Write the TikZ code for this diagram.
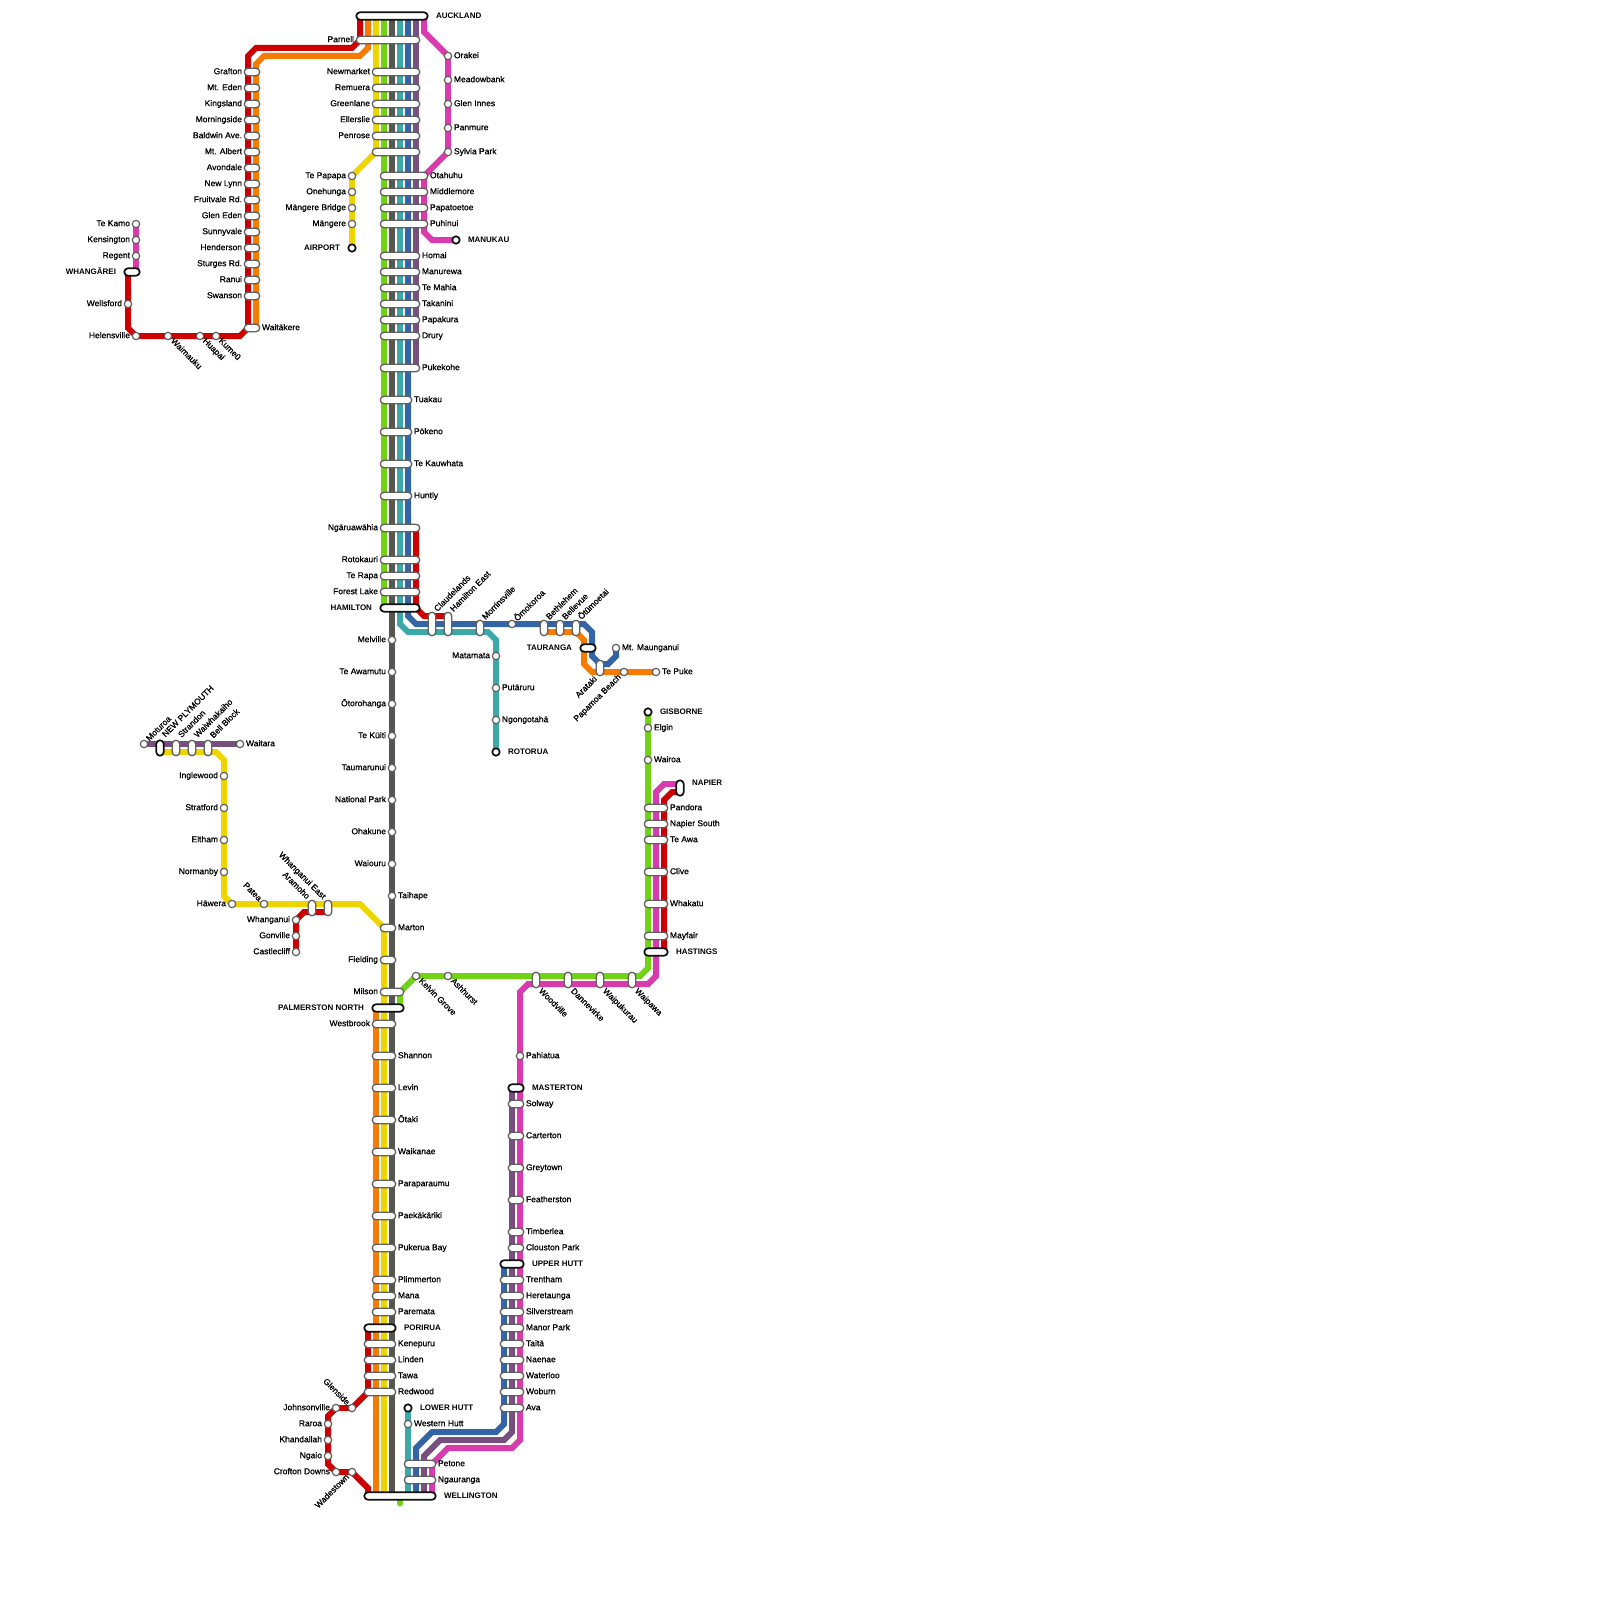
\documentclass[tikz,border=0pt]{standalone}
\usepackage{fontspec}
\setmainfont{Liberation Sans}
\newfontfamily\lbfont[FakeBold=0.8]{Liberation Sans}
\newfontfamily\tmfont{Liberation Sans Bold}
\usetikzlibrary{backgrounds}
\definecolor{cRed}{HTML}{CC0000}
\definecolor{cOrange}{HTML}{F57C00}
\definecolor{cYellow}{HTML}{EED500}
\definecolor{cGreen}{HTML}{72D314}
\definecolor{cGray}{HTML}{55564F}
\definecolor{cTeal}{HTML}{3CA8A8}
\definecolor{cBlue}{HTML}{3365A6}
\definecolor{cPurple}{HTML}{764F7F}
\definecolor{cMagenta}{HTML}{D93AAE}
\definecolor{stnline}{HTML}{606060}
\definecolor{termline}{HTML}{111111}
\tikzset{
  trk/.style={line width=3pt,line join=miter},
  stn/.style={circle,draw=stnline,fill=white,line width=.6pt,minimum size=3.7pt,inner sep=0pt,outer sep=0pt},
  stt/.style={circle,draw=termline,fill=white,line width=.85pt,minimum size=3.7pt,inner sep=0pt,outer sep=0pt},
  capn/.style={rectangle,draw=stnline,fill=white,line width=.65pt,rounded corners=1.87pt,inner sep=0pt,outer sep=0pt},
  capt/.style={rectangle,draw=termline,fill=white,line width=.85pt,rounded corners=1.87pt,inner sep=0pt,outer sep=0pt},
  lbbase/.style={inner sep=0pt,outer sep=0pt,text height=2.2pt,text depth=0pt,font=\lbfont\fontsize{4.25pt}{5pt}\selectfont,text=black},
  tmbase/.style={inner sep=0pt,outer sep=0pt,text height=2.2pt,text depth=0pt,font=\tmfont\fontsize{4pt}{5pt}\selectfont,text=black},
  lbL/.style={lbbase,xshift=-3pt,anchor=east},
  lbR/.style={lbbase,xshift=3pt,anchor=west},
  lbTL/.style={tmbase,xshift=-6pt,anchor=east},
  lbTR/.style={tmbase,xshift=6pt,anchor=west},
  lbUR/.style={lbbase,xshift=2pt,yshift=2pt,rotate=45,anchor=west},
  lbDR/.style={lbbase,xshift=2pt,yshift=-2pt,rotate=-45,anchor=west},
  lbDL/.style={lbbase,xshift=-2pt,yshift=-2pt,rotate=45,anchor=east},
  lbUL/.style={lbbase,xshift=-2pt,yshift=2pt,rotate=-45,anchor=east},
}
% id, x, y, dir, text
\newcommand\MkLab[5]{\node[lb#4] (#1-t) at (#2,#3) {#5};}
% id, style, x1, x2, y
\newcommand\MkCap[5]{\node[#2,minimum width={(#4-#3)*0.5pt+3.75pt},minimum height=3.75pt] (#1) at ({(#3+#4)/2},#5) {};}
\newcommand\CapL[5]{\MkCap{#1}{capn}{#2}{#3}{#4}\MkLab{#1}{#2}{#4}{L}{#5}}
\newcommand\CapR[5]{\MkCap{#1}{capn}{#2}{#3}{#4}\MkLab{#1}{#3}{#4}{R}{#5}}
\newcommand\TermL[5]{\MkCap{#1}{capt}{#2}{#3}{#4}\MkLab{#1}{#2}{#4}{TL}{#5}}
\newcommand\TermR[5]{\MkCap{#1}{capt}{#2}{#3}{#4}\MkLab{#1}{#3}{#4}{TR}{#5}}
\newcommand\Stop[5]{\node[stn] (#1) at (#2,#3) {};\MkLab{#1}{#2}{#3}{#4}{#5}}
\newcommand\TermStop[5]{\node[stt] (#1) at (#2,#3) {};\MkLab{#1}{#2}{#3}{#4}{#5}}
% id, style, x, y1, y2
\newcommand\MkCapV[5]{\node[#2,minimum width=3.75pt,minimum height={(#5-#4)*0.5pt+3.75pt}] (#1) at (#3,{(#4+#5)/2}) {};}
% id, x, y1, y2, label y, dir, text
\newcommand\CapV[7]{\MkCapV{#1}{capn}{#2}{#3}{#4}\MkLab{#1}{#2}{#5}{#6}{#7}}
\begin{document}
\begin{tikzpicture}[x=.5pt,y=-.5pt]
\useasboundingbox (0,0) rectangle (1600,1600);
% ---- Auckland trunk
\TermR{auckland}{360}{424}{16}{AUCKLAND}
\CapL{parnell}{360}{416}{40}{Parnell}
\CapL{newmarket}{376}{416}{72}{Newmarket}
\CapL{remuera}{376}{416}{88}{Remuera}
\CapL{greenlane}{376}{416}{104}{Greenlane}
\CapL{ellerslie}{376}{416}{120}{Ellerslie}
\CapL{penrose}{376}{416}{136}{Penrose}
\MkCap{unnamedjn}{capn}{376}{416}{152}
\CapR{otahuhu}{384}{424}{176}{Otahuhu}
\CapR{middlemore}{384}{424}{192}{Middlemore}
\CapR{papatoetoe}{384}{424}{208}{Papatoetoe}
\CapR{puhinui}{384}{424}{224}{Puhinui}
\CapR{homai}{384}{416}{256}{Homai}
\CapR{manurewa}{384}{416}{272}{Manurewa}
\CapR{temahia}{384}{416}{288}{Te Mahia}
\CapR{takanini}{384}{416}{304}{Takanini}
\CapR{papakura}{384}{416}{320}{Papakura}
\CapR{drury}{384}{416}{336}{Drury}
\CapR{pukekohe}{384}{416}{368}{Pukekohe}
\CapR{tuakau}{384}{408}{400}{Tuakau}
\CapR{pokeno}{384}{408}{432}{Pōkeno}
\CapR{tekauwhata}{384}{408}{464}{Te Kauwhata}
\CapR{huntly}{384}{408}{496}{Huntly}
\CapL{ngaruawahia}{384}{416}{528}{Ngāruawāhia}
\CapL{rotokauri}{384}{416}{560}{Rotokauri}
\CapL{terapa}{384}{416}{576}{Te Rapa}
\CapL{forestlake}{384}{416}{592}{Forest Lake}
\TermL{hamilton}{384}{416}{608}{HAMILTON}
% ---- Onehunga
\Stop{tepapapa}{352}{176}{L}{Te Papapa}
\Stop{onehunga}{352}{192}{L}{Onehunga}
\Stop{mangerebridge}{352}{208}{L}{Māngere Bridge}
\Stop{mangere}{352}{224}{L}{Māngere}
\TermStop{airport}{352}{248}{TL}{AIRPORT}
% ---- Orakei / Manukau
\Stop{orakei}{448}{56}{R}{Orakei}
\Stop{meadowbank}{448}{80}{R}{Meadowbank}
\Stop{gleninnes}{448}{104}{R}{Glen Innes}
\Stop{panmure}{448}{128}{R}{Panmure}
\Stop{sylviapark}{448}{152}{R}{Sylvia Park}
\TermStop{manukau}{456}{240}{TR}{MANUKAU}
% ---- Western
\CapL{grafton}{248}{256}{72}{Grafton}
\CapL{mteden}{248}{256}{88}{Mt. Eden}
\CapL{kingsland}{248}{256}{104}{Kingsland}
\CapL{morningside}{248}{256}{120}{Morningside}
\CapL{baldwin}{248}{256}{136}{Baldwin Ave.}
\CapL{mtalbert}{248}{256}{152}{Mt. Albert}
\CapL{avondale}{248}{256}{168}{Avondale}
\CapL{newlynn}{248}{256}{184}{New Lynn}
\CapL{fruitvale}{248}{256}{200}{Fruitvale Rd.}
\CapL{gleneden}{248}{256}{216}{Glen Eden}
\CapL{sunnyvale}{248}{256}{232}{Sunnyvale}
\CapL{henderson}{248}{256}{248}{Henderson}
\CapL{sturges}{248}{256}{264}{Sturges Rd.}
\CapL{ranui}{248}{256}{280}{Ranui}
\CapL{swanson}{248}{256}{296}{Swanson}
\CapR{waitakere}{248}{256}{328}{Waitākere}
% ---- Northland
\Stop{tekamo}{136}{224}{L}{Te Kamo}
\Stop{kensington}{136}{240}{L}{Kensington}
\Stop{regent}{136}{256}{L}{Regent}
\TermL{whangarei}{128}{136}{272}{WHANGĀREI}
\Stop{wellsford}{128}{304}{L}{Wellsford}
\Stop{helensville}{136}{336}{L}{Helensville}
\Stop{waimauku}{168}{336}{DR}{Waimauku}
\Stop{huapai}{200}{336}{DR}{Huapai}
\Stop{kumeu}{216}{336}{DR}{Kumeū}
% ---- Main trunk south of Hamilton
\Stop{melville}{392}{640}{L}{Melville}
\Stop{teawamutu}{392}{672}{L}{Te Awamutu}
\Stop{otorohanga}{392}{704}{L}{Ōtorohanga}
\Stop{tekuiti}{392}{736}{L}{Te Kūiti}
\Stop{taumarunui}{392}{768}{L}{Taumarunui}
\Stop{nationalpark}{392}{800}{L}{National Park}
\Stop{ohakune}{392}{832}{L}{Ohakune}
\Stop{waiouru}{392}{864}{L}{Waiouru}
\Stop{taihape}{392}{896}{R}{Taihape}
\CapR{marton}{384}{392}{928}{Marton}
\CapL{fielding}{384}{392}{960}{Fielding}
\CapL{milson}{384}{400}{992}{Milson}
\TermL{palmerston}{376}{400}{1008}{PALMERSTON NORTH}
\CapL{westbrook}{376}{392}{1024}{Westbrook}
\CapR{shannon}{376}{392}{1056}{Shannon}
\CapR{levin}{376}{392}{1088}{Levin}
\CapR{otaki}{376}{392}{1120}{Ōtaki}
\CapR{waikanae}{376}{392}{1152}{Waikanae}
\CapR{paraparaumu}{376}{392}{1184}{Paraparaumu}
\CapR{paekakariki}{376}{392}{1216}{Paekākāriki}
\CapR{pukerua}{376}{392}{1248}{Pukerua Bay}
\CapR{plimmerton}{376}{392}{1280}{Plimmerton}
\CapR{mana}{376}{392}{1296}{Mana}
\CapR{paremata}{376}{392}{1312}{Paremata}
\TermR{porirua}{368}{392}{1328}{PORIRUA}
\CapR{kenepuru}{368}{392}{1344}{Kenepuru}
\CapR{linden}{368}{392}{1360}{Linden}
\CapR{tawa}{368}{392}{1376}{Tawa}
\CapR{redwood}{368}{392}{1392}{Redwood}
\TermR{wellington}{368}{432}{1496}{WELLINGTON}
% ---- Johnsonville
\Stop{glenside}{352}{1408}{UL}{Glenside}
\Stop{johnsonville}{336}{1408}{L}{Johnsonville}
\Stop{raroa}{328}{1424}{L}{Raroa}
\Stop{khandallah}{328}{1440}{L}{Khandallah}
\Stop{ngaio}{328}{1456}{L}{Ngaio}
\Stop{crofton}{336}{1472}{L}{Crofton Downs}
\Stop{wadestown}{352}{1472}{DL}{Wadestown}
% ---- Hutt
\TermStop{lowerhutt}{408}{1408}{TR}{LOWER HUTT}
\Stop{westernhutt}{408}{1424}{R}{Western Hutt}
\CapR{petone}{408}{432}{1464}{Petone}
\CapR{ngauranga}{408}{432}{1480}{Ngauranga}
\TermR{upperhutt}{504}{520}{1264}{UPPER HUTT}
\CapR{trentham}{504}{520}{1280}{Trentham}
\CapR{heretaunga}{504}{520}{1296}{Heretaunga}
\CapR{silverstream}{504}{520}{1312}{Silverstream}
\CapR{manorpark}{504}{520}{1328}{Manor Park}
\CapR{taita}{504}{520}{1344}{Taitā}
\CapR{naenae}{504}{520}{1360}{Naenae}
\CapR{waterloo}{504}{520}{1376}{Waterloo}
\CapR{woburn}{504}{520}{1392}{Woburn}
\CapR{ava}{504}{520}{1408}{Ava}
% ---- Wairarapa
\Stop{pahiatua}{520}{1056}{R}{Pahiatua}
\TermR{masterton}{512}{520}{1088}{MASTERTON}
\CapR{solway}{512}{520}{1104}{Solway}
\CapR{carterton}{512}{520}{1136}{Carterton}
\CapR{greytown}{512}{520}{1168}{Greytown}
\CapR{featherston}{512}{520}{1200}{Featherston}
\CapR{timberlea}{512}{520}{1232}{Timberlea}
\CapR{clouston}{512}{520}{1248}{Clouston Park}
% ---- Waikato east / Bay of Plenty
\CapV{claudelands}{432}{616}{632}{614.5}{UR}{Claudelands}
\CapV{hamiltoneast}{448}{616}{632}{614.5}{UR}{Hamilton East}
\CapV{morrinsville}{480}{624}{632}{622.5}{UR}{Morrinsville}
\Stop{omokoroa}{512}{624}{UR}{Ōmokoroa}
\CapV{bethlehem}{544}{624}{632}{622.5}{UR}{Bethlehem}
\CapV{bellevue}{560}{624}{632}{622.5}{UR}{Bellevue}
\CapV{otumoetai}{576}{624}{632}{622.5}{UR}{Ōtūmoetai}
\TermL{tauranga}{584}{592}{648}{TAURANGA}
\Stop{mtmaunganui}{616}{648}{R}{Mt. Maunganui}
\CapV{arataki}{600}{664}{672}{674}{DL}{Arataki}
\Stop{papamoa}{624}{672}{DL}{Papamoa Beach}
\Stop{tepuke}{656}{672}{R}{Te Puke}
\Stop{matamata}{496}{656}{L}{Matamata}
\Stop{putaruru}{496}{688}{R}{Putāruru}
\Stop{ngongotaha}{496}{720}{R}{Ngongotahā}
\TermStop{rotorua}{496}{752}{TR}{ROTORUA}
% ---- Taranaki
\Stop{moturoa}{144}{744}{UR}{Moturoa}
\MkCapV{newplymouth}{capt}{160}{744}{752}
\MkLab{newplymouth}{160}{740}{UR}{NEW PLYMOUTH}
\CapV{strandon}{176}{744}{752}{740.5}{UR}{Strandon}
\CapV{waiwhakaiho}{192}{744}{752}{740.5}{UR}{Waiwhakaiho}
\CapV{bellblock}{208}{744}{752}{741}{UR}{Bell Block}
\Stop{waitara}{240}{744}{R}{Waitara}
\Stop{inglewood}{224}{776}{L}{Inglewood}
\Stop{stratford}{224}{808}{L}{Stratford}
\Stop{eltham}{224}{840}{L}{Eltham}
\Stop{normanby}{224}{872}{L}{Normanby}
\Stop{hawera}{232}{904}{L}{Hāwera}
\Stop{patea}{264}{904}{UL}{Patea}
\CapV{aramoho}{312}{904}{912}{902}{UL}{Aramoho}
\CapV{whanganuieast}{328}{904}{912}{902}{UL}{Whanganui East}
\Stop{whanganui}{296}{920}{L}{Whanganui}
\Stop{gonville}{296}{936}{L}{Gonville}
\Stop{castlecliff}{296}{952}{L}{Castlecliff}
% ---- Manawatu / Hawke's Bay
\Stop{kelvingrove}{416}{976}{DR}{Kelvin Grove}
\Stop{ashhurst}{448}{976}{DR}{Ashhurst}
\CapV{woodville}{536}{976}{984}{986}{DR}{Woodville}
\CapV{dannevirke}{568}{976}{984}{986}{DR}{Dannevirke}
\CapV{waipukurau}{600}{976}{984}{986}{DR}{Waipukurau}
\CapV{waipawa}{632}{976}{984}{986}{DR}{Waipawa}
\TermStop{gisborne}{648}{712}{TR}{GISBORNE}
\Stop{elgin}{648}{728}{R}{Elgin}
\Stop{wairoa}{648}{760}{R}{Wairoa}
\MkCapV{napier}{capt}{680}{784}{792}
\MkLab{napier}{680}{783.5}{TR}{NAPIER}
\CapR{pandora}{648}{664}{808}{Pandora}
\CapR{napiersouth}{648}{664}{824}{Napier South}
\CapR{teawa}{648}{664}{840}{Te Awa}
\CapR{clive}{648}{664}{872}{Clive}
\CapR{whakatu}{648}{664}{904}{Whakatu}
\CapR{mayfair}{648}{664}{936}{Mayfair}
\TermR{hastings}{648}{664}{952}{HASTINGS}
% ---- Lines, behind the stations
\begin{scope}[on background layer]
% red
\draw[trk,cRed] (360,16) -- (360,40) -- (352,48) -- (256,48) -- (248,56) -- (248,328) -- (240,336) -- (helensville.center) -- (128,328) -- (128,272);
\draw[trk,cRed] (416,528) -- (416,608) -- (424,616) -- (hamiltoneast.center |- 424,616);
\draw[trk,cRed] (napier.center |- 680,792) -- (672,792) -- (664,800) -- (664,952);
\draw[trk,cRed] (whanganuieast.center |- 328,912) -- (304,912) -- (whanganui.center) -- (castlecliff.center);
\draw[trk,cRed] (368,1328) -- (368,1392) -- (glenside.center) -- (johnsonville.center) -- (328,1416) -- (328,1464) -- (crofton.center) -- (wadestown.center) -- (368,1488) -- (368,1496);
% orange
\draw[trk,cOrange] (368,16) -- (368,48) -- (360,56) -- (264,56) -- (256,64) -- (256,328);
\draw[trk,cOrange] (376,1008) -- (376,1496);
\draw[trk,cOrange] (544,632) -- (576,632) -- (584,640) -- (584,664) -- (592,672) -- (tepuke.center);
% yellow
\draw[trk,cYellow] (376,16) -- (376,152) -- (tepapapa.center) -- (airport.center);
\draw[trk,cYellow] (160,752) -- (216,752) -- (224,760) -- (224,896) -- (hawera.center) -- (360,904) -- (384,928) -- (384,1496);
% green
\draw[trk,cGreen] (384,16) -- (384,608);
\draw[trk,cGreen] (400,1008) -- (400,992) -- (kelvingrove.center) -- (640,976) -- (648,968) -- (gisborne.center);
\draw[trk,cGreen,line cap=round] (400,1496) -- (400,1503.5);
% gray
\draw[trk,cGray] (392,16) -- (392,1496);
% teal
\draw[trk,cTeal] (400,16) -- (400,624) -- (408,632) -- (488,632) -- (496,640) -- (rotorua.center);
\draw[trk,cTeal] (lowerhutt.center) -- (408,1496);
% blue
\draw[trk,cBlue] (408,16) -- (408,616) -- (416,624) -- (584,624) -- (592,632) -- (592,656) -- (600,664) -- (608,664) -- (616,656) -- (mtmaunganui.center);
\draw[trk,cBlue] (504,1264) -- (504,1424) -- (496,1432) -- (432,1432) -- (416,1448) -- (416,1496);
% purple
\draw[trk,cPurple] (416,16) -- (416,368);
\draw[trk,cPurple] (moturoa.center) -- (waitara.center);
\draw[trk,cPurple] (512,1088) -- (512,1432) -- (504,1440) -- (440,1440) -- (424,1456) -- (424,1496);
% magenta
\draw[trk,cMagenta] (424,16) -- (424,32) -- (orakei.center) -- (sylviapark.center) -- (424,176) -- (424,232) -- (432,240) -- (manukau.center);
\draw[trk,cMagenta] (tekamo.center) -- (136,272);
\draw[trk,cMagenta] (680,784) -- (664,784) -- (656,792) -- (656,976) -- (648,984) -- (528,984) -- (520,992) -- (520,1440) -- (512,1448) -- (448,1448) -- (432,1464) -- (432,1496);
\end{scope}
\end{tikzpicture}
\end{document}
